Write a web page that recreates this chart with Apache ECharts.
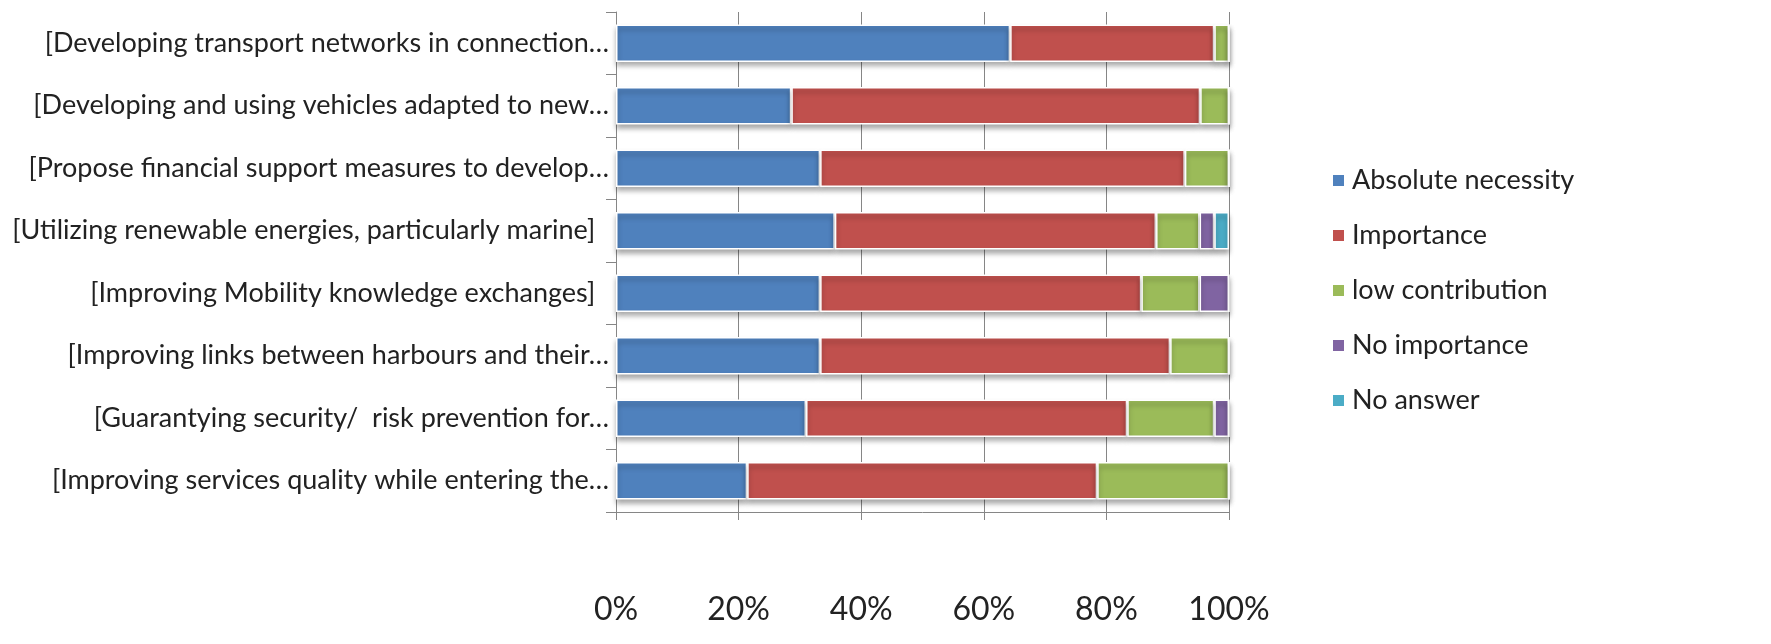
<!DOCTYPE html>
<html>
<head>
<meta charset="utf-8">
<script src="https://cdn.jsdelivr.net/npm/echarts@6/dist/echarts.min.js"></script>
<style>
html,body{margin:0;padding:0;background:#fff;}
#main{width:1771px;height:644px;}
</style>
</head>
<body>
<div id="main"></div>
<script>
const categories = [
  "[Developing transport networks in connection…",
  "[Developing and using vehicles adapted to new…",
  "[Propose financial support measures to develop…",
  "[Utilizing renewable energies, particularly marine]  ",
  "[Improving Mobility knowledge exchanges]  ",
  "[Improving links between harbours and their…",
  "[Guarantying security/  risk prevention for…",
  "[Improving services quality while entering the…"
];
const seriesNames = ["Absolute necessity", "Importance", "low contribution", "No importance", "No answer"];
const absoluteNecessity = [64.3, 28.6, 33.3, 35.7, 33.3, 33.3, 31.0, 21.4];
const importance        = [33.3, 66.7, 59.5, 52.4, 52.4, 57.1, 52.4, 57.1];
const lowContribution   = [2.4, 4.7, 7.2, 7.1, 9.5, 9.6, 14.2, 21.5];
const noImportance      = [0, 0, 0, 2.4, 4.8, 0, 2.4, 0];
const noAnswer          = [0, 0, 0, 2.4, 0, 0, 0, 0];
const xTicks = [0, 20, 40, 60, 80, 100];

const colors = ["#4F81BD", "#C0504D", "#9BBB59", "#8064A2", "#4BACC6"];
const allData = [absoluteNecessity, importance, lowContribution, noImportance, noAnswer];
const FONT = "Lato";

const chart = echarts.init(document.getElementById('main'));
chart.setOption({
  animation: false,
  backgroundColor: '#ffffff',
  color: colors,
  grid: {left: 616, right: 542, top: 12, bottom: 132, containLabel: false},
  legend: {
    orient: 'vertical',
    left: 1326,
    top: 162,
    itemWidth: 13,
    itemHeight: 13,
    itemGap: 28,
    icon: 'rect',
    data: seriesNames,
    textStyle: {fontFamily: FONT, fontSize: 27, color: '#222', lineHeight: 27, padding: [0, 0, 0, 2]}
  },
  xAxis: {
    type: 'value',
    min: 0, max: 100, interval: 20,
    axisLine: {show: true, lineStyle: {color: '#868686', width: 1}},
    axisTick: {show: true, length: 8, lineStyle: {color: '#868686'}},
    splitLine: {show: true, lineStyle: {color: '#868686', width: 1}},
    axisLabel: {
      formatter: v => xTicks.includes(v) ? v + '%' : '',
      fontFamily: FONT, fontSize: 32, color: '#222', margin: 82
    }
  },
  yAxis: {
    type: 'category',
    inverse: true,
    data: categories,
    axisLine: {show: true, lineStyle: {color: '#868686', width: 1}},
    axisTick: {show: true, length: 10, lineStyle: {color: '#868686'}},
    axisLabel: {fontFamily: FONT, fontSize: 27, color: '#222', margin: 7}
  },
  series: seriesNames.map((name, i) => ({
    name: name,
    type: 'bar',
    stack: 'total',
    barWidth: '60%',
    data: allData[i],
    itemStyle: {
      color: colors[i],
      borderColor: '#ffffff',
      borderWidth: 1.5,
      shadowColor: 'rgba(0,0,0,0.35)',
      shadowBlur: 5,
      shadowOffsetY: 4
    }
  }))
});
</script>
</body>
</html>
